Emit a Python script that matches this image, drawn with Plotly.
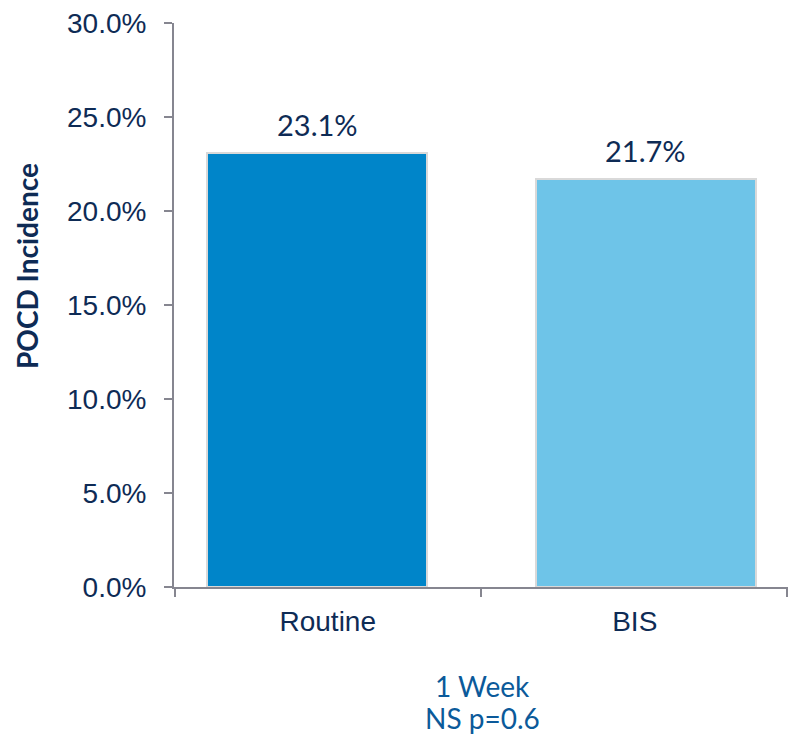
import plotly.graph_objects as go

# POCD incidence at 1 week, routine care vs BIS-guided anaesthesia
groups = ["Routine", "BIS"]
incidence = [23.1, 21.7]
bar_colors = ["#0085C9", "#6EC4E8"]
y_ticks = [0, 5, 10, 15, 20, 25, 30]
y_tick_text = [f"{v:.1f}%" for v in y_ticks]
footnote = ["1 Week", "NS p=0.6"]

navy = "#0E2B55"
axis_grey = "#868690"
xpos = list(range(len(groups)))
x_lo, x_mid, x_hi = -0.435, 0.5, 1.432
# category labels sit at the centre of each band between boundary ticks
label_pos = [(x_lo + x_mid) / 2, (x_mid + x_hi) / 2]

fig = go.Figure()
fig.add_trace(go.Bar(
    x=xpos, y=incidence, width=0.667,
    marker=dict(color=bar_colors, line=dict(color="#D9D9D9", width=2)),
    hoverinfo="skip", showlegend=False,
))
# hidden trace driving the category-boundary tick axis
fig.add_trace(go.Scatter(x=[x_lo, x_hi], y=[0, 0], xaxis="x2", mode="none",
                         showlegend=False, hoverinfo="skip"))

for xv, v in zip(xpos, incidence):
    fig.add_annotation(x=xv, y=v, text=f"{v:.1f}%", showarrow=False,
                       yanchor="bottom", yshift=9,
                       font=dict(family="Lato, Open Sans, sans-serif", size=29, color=navy))

for line, ypx in zip(footnote, [686, 718]):
    fig.add_annotation(xref="paper", yref="paper", x=(482 - 174) / 614,
                       y=(587 - ypx) / 564, text=line, showarrow=False,
                       yanchor="middle", align="center",
                       font=dict(family="Lato, Open Sans, sans-serif", size=28, color="#0B5A9A"))

# rotated y-axis title
fig.add_annotation(xref="paper", yref="paper", x=(27 - 174) / 614, y=(587 - 266) / 564,
                   text="<b>POCD Incidence</b>", textangle=-90, showarrow=False,
                   xanchor="center", yanchor="middle",
                   font=dict(family="Lato, Open Sans, sans-serif", size=28, color=navy))

fig.update_layout(
    width=790, height=740,
    margin=dict(l=174, r=2, t=23, b=153),
    plot_bgcolor="white", paper_bgcolor="white",
    bargap=0,
    xaxis=dict(range=[x_lo, x_hi], tickvals=label_pos, ticktext=groups, ticks="",
               ticklabelstandoff=8,
               showline=True, linecolor=axis_grey, linewidth=2, showgrid=False,
               zeroline=False, fixedrange=True,
               tickfont=dict(family="Liberation Sans, Arial", size=28, color=navy)),
    xaxis2=dict(range=[x_lo, x_hi], overlaying="x", anchor="y", side="bottom",
                tickvals=[x_lo + 0.002, x_mid, x_hi - 0.002], ticks="outside",
                ticklen=9, tickwidth=2, tickcolor=axis_grey,
                showticklabels=False, showgrid=False, zeroline=False, showline=False),
    yaxis=dict(range=[0, 30], tickvals=y_ticks, ticktext=y_tick_text,
               ticks="outside", ticklen=8, tickwidth=2, tickcolor=axis_grey,
               ticklabelstandoff=12,
               showline=True, linecolor=axis_grey, linewidth=2, showgrid=False,
               zeroline=False,
               tickfont=dict(family="Liberation Sans, Arial", size=28, color=navy)),
)

fig.write_html("out.html")
